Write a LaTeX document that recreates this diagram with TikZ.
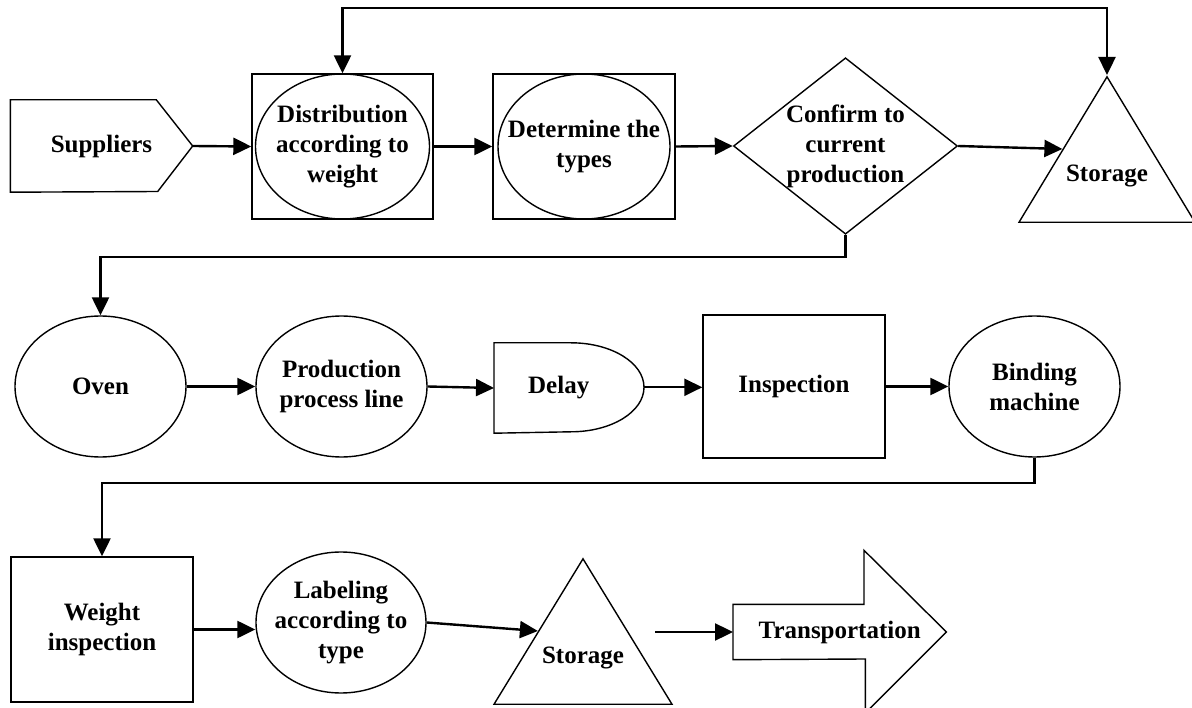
\documentclass[tikz,border=0pt]{standalone}
\usepackage{fontspec}
\setmainfont{Liberation Serif}
\usepackage{tikz}
\usetikzlibrary{arrows.meta, shapes.geometric, calc}

\tikzset{
  shp/.style={draw, line width=1.4pt},
  blk/.style={
    shp, align=center, inner sep=0pt,
    font=\fontsize{25}{30}\selectfont\bfseries
  },
  frame/.style ={blk, rectangle},
  oval/.style  ={blk, ellipse, inner sep=-25pt},
  decide/.style={blk, diamond, aspect=1.27},
  store/.style ={
    blk, isosceles triangle, isosceles triangle stretches,
    shape border rotate=90, anchor=apex
  },
  ghost/.style ={blk, draw=none},
  conn/.style={
    -{Triangle[length=18pt,width=17pt]},
    line width=2.4pt
  },
  conn2/.style={
    conn, {Triangle[length=18pt,width=17pt]}-{Triangle[length=18pt,width=17pt]}
  }
}

\begin{document}
\begin{tikzpicture}[x=1pt, y=-1pt]
  \useasboundingbox (0,0) rectangle (1192,708);

  % row 1
  \node[ghost, minimum width=181pt, minimum height=91pt] (sup) at (101.5,146) {Suppliers};
  \draw[shp] (sup.north west) -- ++(146,0) -- (sup.east) -- ++(-35,45.5) -- (sup.south west) -- cycle;
  \node[frame, minimum width=181pt, minimum height=145pt] (dis) at (342.5,146.5) {};
  \node[oval, minimum width=174pt, minimum height=145pt] (disO) at (dis) {Distribution\\according to\\weight};
  \node[frame, minimum width=182pt, minimum height=145pt] (det) at (584,146.5) {};
  \node[oval, minimum width=172pt, minimum height=145pt] (detO) at (det) {Determine the\\types};
  \node[decide, minimum width=221pt, minimum height=174pt] (dia) at (845.5,146) {Confirm to\\current\\production};
  \node[store, minimum width=176pt, minimum height=143pt] (sto1) at (1107,75) {\raisebox{30pt}{Storage}};

  % row 2
  \node[oval, minimum width=171pt, minimum height=141pt] (oven) at (100.5,386.5) {Oven};
  \node[oval, minimum width=171pt, minimum height=141pt] (prod) at (341.5,386.5) {Production\\process line};
  \node[ghost, anchor=west, minimum width=128pt, minimum height=89pt] (dly) at (494,388) {Delay};
  \draw[shp] (dly.north west) -- ++(77,0)
    arc[start angle=90, end angle=0, x radius=73pt, y radius=44.5pt] coordinate (dlyTip)
    arc[start angle=0, end angle=-90, x radius=73pt, y radius=44.5pt] -- (dly.south west) -- cycle;
  \node[frame, minimum width=182pt, minimum height=143pt] (insp) at (794,386.5) {Inspection};
  \node[oval, minimum width=171pt, minimum height=141pt] (bind) at (1034.5,386.5) {Binding\\machine};

  % row 3
  \node[frame, minimum width=182pt, minimum height=145pt] (wgt) at (102,629.5) {Weight\\inspection};
  \node[oval, minimum width=170pt, minimum height=141pt] (lab) at (341,622.5) {Labeling\\according to\\type};
  \node[store, minimum width=178pt, minimum height=145pt] (sto2) at (583,557) {\raisebox{30pt}{Storage}};
  \node[ghost, anchor=west, minimum width=212pt, minimum height=54pt] (tra) at (733,632) {Transportation};
  \draw[shp] (tra.north west) -- ++(131,0) -- ++(0,-54) -- (tra.east) -- ++(-81,81) -- ++(0,-54) -- (tra.south west) -- cycle;

  % connectors
  \coordinate (top) at (0,8);
  \coordinate (r1) at (0,257);
  \coordinate (r2) at (0,483);
  \draw[conn] (sup.east) -- (dis.west);
  \draw[conn] (dis.east) -- (det.west);
  \draw[conn] (det.east) -- (dia.west);
  \draw[conn] (dia.east) -- (sto1.left side);
  \draw[conn2] (dis.north) -- (dis.north |- top) -- (sto1.apex |- top) -- (sto1.apex);
  \draw[conn] (dia.south) -- (dia.south |- r1) -- (oven.north |- r1) -- (oven.north);
  \draw[conn] (oven) -- (prod);
  \draw[conn] (prod.east) -- (dly.west);
  \draw[conn] (dlyTip) -- (dlyTip -| insp.west);
  \draw[conn] (insp.east) -- (bind.west);
  \draw[conn] (bind.south) -- (bind.south |- r2) -- (wgt.north |- r2) -- (wgt.north);
  \draw[conn] (wgt.east) -- (wgt.east -| lab.west);
  \draw[conn] (lab.east) -- (sto2.left side);
  \draw[conn] ([xshift=-78pt]tra.west) -- (tra.west);
\end{tikzpicture}
\end{document}
